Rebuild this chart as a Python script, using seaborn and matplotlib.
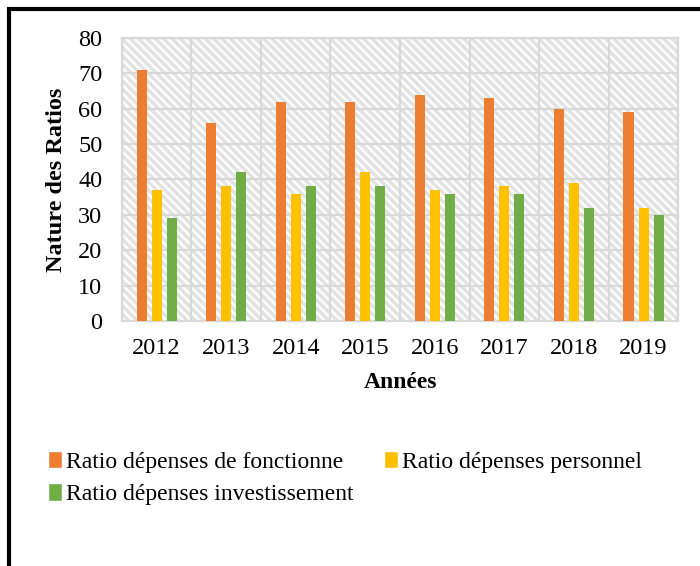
import pandas as pd
import seaborn as sns
import matplotlib.pyplot as plt
from matplotlib.patches import Rectangle, Patch

annees = ["2012", "2013", "2014", "2015", "2016", "2017", "2018", "2019"]
series = ["Ratio dépenses de fonctionne", "Ratio dépenses personnel",
          "Ratio dépenses investissement"]
fonctionnement = [71, 56, 62, 62, 64, 63, 60, 59]
personnel = [37, 38, 36, 42, 37, 38, 39, 32]
investissement = [29, 42, 38, 38, 36, 36, 32, 30]
couleurs = ["#ED7D31", "#FFC000", "#70AD47"]

lignes = []
for nom, valeurs in zip(series, [fonctionnement, personnel, investissement]):
    for a, v in zip(annees, valeurs):
        lignes.append({"Années": a, "Série": nom, "Valeur": v})
df = pd.DataFrame(lignes)

sns.set_theme(style="white")
plt.rcParams['font.family'] = ['Liberation Serif', 'DejaVu Serif']
plt.rcParams['text.color'] = 'black'
plt.rcParams['axes.labelcolor'] = 'black'
plt.rcParams['hatch.linewidth'] = 2.5
plt.rcParams['hatch.color'] = '#e3e3e3'

fig = plt.figure(figsize=(7, 5.66), dpi=100)
ax = fig.add_axes([0.174, 0.433, 0.795, 0.5])

# fond hachuré de la zone de tracé
ax.add_patch(Rectangle((0, 0), 1, 1, transform=ax.transAxes, facecolor='white',
                       edgecolor='#e3e3e3', hatch='\\\\\\\\', linewidth=0, zorder=0))

sns.barplot(data=df, x="Années", y="Valeur", hue="Série", palette=couleurs,
            saturation=1, width=0.648, gap=0.333, ax=ax, legend=False, zorder=3,
            linewidth=0, edgecolor='none')

ax.set_ylim(0, 80)
ax.set_xlim(-0.5, 7.5)
ax.set_yticks(range(0, 81, 10))
ax.grid(False)
for y in range(10, 81, 10):
    ax.axhline(y, color='#d9d9d9', linewidth=1.6, zorder=1)
for x in [i + 0.5 for i in range(-1, 8)]:
    ax.axvline(x, color='#d9d9d9', linewidth=1.6, zorder=1)

for s in ax.spines.values():
    s.set_color('#d9d9d9')
    s.set_linewidth(1.6)

ax.tick_params(axis='y', length=0, pad=14, labelsize=17.5, labelcolor='black')
ax.tick_params(axis='x', length=0, pad=12, labelsize=17.5, labelcolor='black')
ax.set_xlabel("Années", fontsize=17, fontweight='bold', labelpad=10)
ax.set_ylabel("Nature des Ratios", fontsize=17.5, fontweight='bold', labelpad=8)

handles = [Patch(facecolor=c, label=n) for c, n in zip(couleurs, series)]
ordre = [0, 2, 1]
fig.legend([handles[i] for i in ordre], [series[i] for i in ordre], ncol=2,
           loc='upper left', bbox_to_anchor=(0.055, 0.22), frameon=False,
           fontsize=17, handlelength=0.6, handleheight=0.75, handletextpad=0.15,
           columnspacing=1.3, labelspacing=0.45, borderaxespad=0)

# cadre noir autour de la figure
fig.patches.append(Rectangle((9 / 700, -0.2), 1.5, 1 - 9 / 566 + 0.2,
                             transform=fig.transFigure, fill=False,
                             edgecolor='black', linewidth=3))

fig.savefig("out.png", dpi=100)
